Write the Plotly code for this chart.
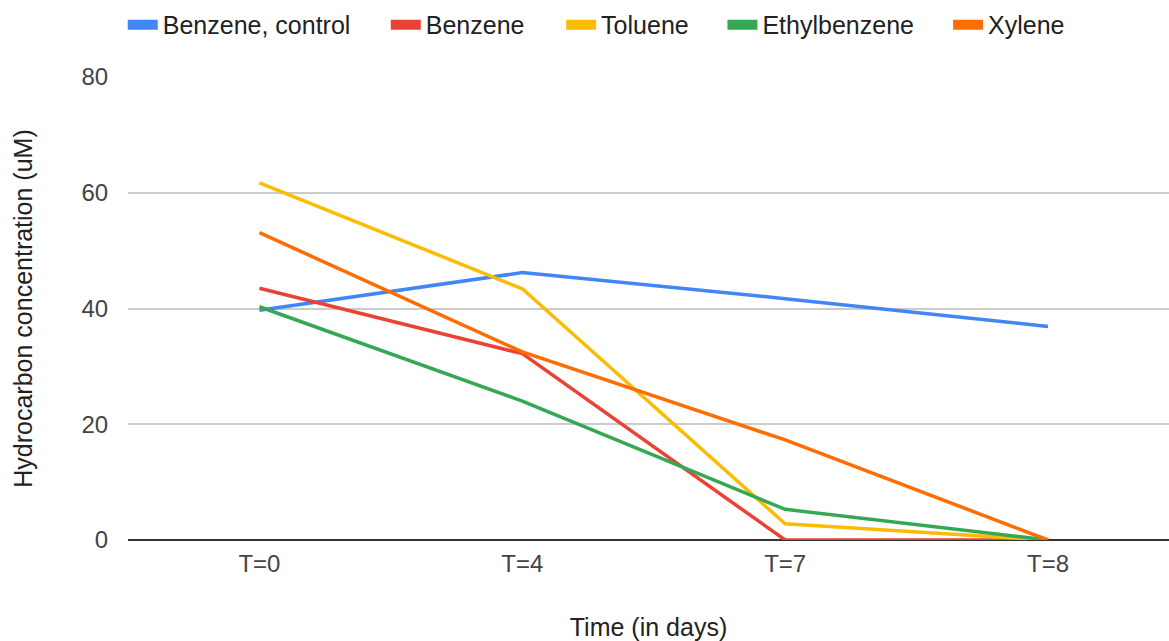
import plotly.graph_objects as go

categories = ["T=0", "T=4", "T=7", "T=8"]
benzene_control = [39.7, 46.2, 41.7, 36.9]
benzene = [43.5, 32.2, 0, 0]
toluene = [61.7, 43.4, 2.8, 0]
ethylbenzene = [40.3, 24.0, 5.3, 0]
xylene = [53.1, 32.5, 17.3, 0]

series = [
    ("Benzene, control", benzene_control, "#4285F4"),
    ("Benzene", benzene, "#EA4335"),
    ("Toluene", toluene, "#FBBC04"),
    ("Ethylbenzene", ethylbenzene, "#34A853"),
    ("Xylene", xylene, "#FF6D01"),
]
legend_x = [0.105, 0.330, 0.480, 0.618, 0.811]  # container fraction for each legend entry

font_family = "Liberation Sans, Arial, sans-serif"
fig = go.Figure()
for i, (name, vals, color) in enumerate(series):
    fig.add_trace(go.Scatter(
        x=categories, y=vals, name=name, mode="lines",
        line=dict(color=color, width=3.5), showlegend=False,
        legendgroup=name,
    ))
legend_layout = {}
for i, (name, vals, color) in enumerate(series):
    key = "legend" if i == 0 else f"legend{i+1}"
    fig.add_trace(go.Scatter(
        x=[None], y=[None], name=name, mode="lines",
        line=dict(color=color, width=10), legendgroup=name,
        legend=key,
    ))
    legend_layout[key] = dict(
        orientation="h", x=legend_x[i], xanchor="left", xref="container",
        yref="container", y=0.961, yanchor="middle",
        font=dict(size=25, color="#222222"),
        bgcolor="rgba(0,0,0,0)",
    )

fig.update_layout(
    width=1169, height=641,
    margin=dict(l=128, r=0, t=77, b=101),
    paper_bgcolor="white", plot_bgcolor="white",
    font=dict(family=font_family, size=25, color="#222222"),
    xaxis=dict(
        type="category", range=[-0.5, 3.46],
        showgrid=False, showline=False, zeroline=False,
        tickfont=dict(size=24, color="#444444"),
        title=dict(text="Time (in days)", font=dict(size=25, color="#222222"), standoff=44),
        ticks="outside", ticklen=2, tickcolor="rgba(0,0,0,0)",
    ),
    yaxis=dict(
        range=[0, 80], tickvals=[0, 20, 40, 60, 80],
        showgrid=True, gridcolor="#cccccc", gridwidth=1.5,
        zeroline=True, zerolinecolor="#333333", zerolinewidth=1.5,
        showline=False,
        tickfont=dict(size=24, color="#444444"),
        ticks="outside", ticklen=14, tickcolor="rgba(0,0,0,0)",
        title=dict(text="Hydrocarbon concentration (uM)", font=dict(size=25, color="#222222"), standoff=41),
    ),
    **legend_layout,
)

fig.write_html("out.html")
